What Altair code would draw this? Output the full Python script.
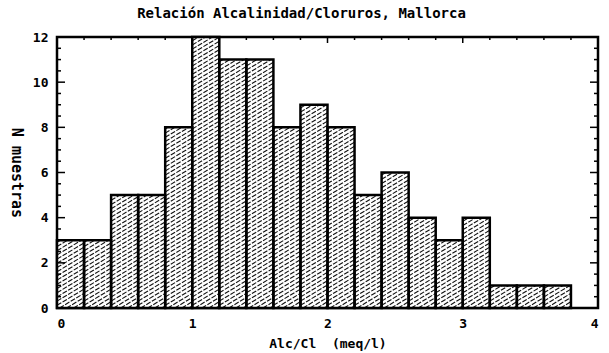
import altair as alt
import numpy as np
import pandas as pd

# Histogram of the alkalinity/chloride ratio (bin width 0.2 meq/l)
bin_start = [0.0, 0.2, 0.4, 0.6, 0.8, 1.0, 1.2, 1.4, 1.6, 1.8,
             2.0, 2.2, 2.4, 2.6, 2.8, 3.0, 3.2, 3.4, 3.6]
counts = [3, 3, 5, 5, 8, 12, 11, 11, 8, 9, 8, 5, 6, 4, 3, 4, 1, 1, 1]
bin_width = 0.2

x_ticks = [0, 1, 2, 3, 4]
y_ticks = [0, 2, 4, 6, 8, 10, 12]

W, H = 541, 271
FONT = "DejaVu Sans Mono"

bars = pd.DataFrame({
    "x0": bin_start,
    "x1": [b + bin_width for b in bin_start],
    "n": counts,
})

# diagonal hatch texture inside each bar (about 30 degrees on screen)
px_ratio = (W / 4.0) / (H / 12.0)
slope = 0.6 * px_ratio              # y data-units per x data-unit
step = 4.2 / (H / 12.0)             # vertical spacing of hatch lines
segs = []
for x0, x1, h in zip(bars.x0, bars.x1, bars.n):
    for c in np.arange(-slope * bin_width + step / 2, h, step):
        xa = x0 + max(0.0, -c) / slope
        ya = max(c, 0.0)
        yb = min(c + slope * bin_width, h)
        xb = x0 + (yb - c) / slope
        if xb > xa:
            segs.append({"xa": xa, "xb": xb, "ya": ya, "yb": yb})
hatch_df = pd.DataFrame(segs)

xs = alt.Scale(domain=[0, 4], nice=False, zero=False)
ys = alt.Scale(domain=[0, 12], nice=False, zero=True)

x_axis = alt.Axis(values=x_ticks, format="d", title="Alc/Cl\u00a0\u00a0(meq/l)",
                  domain=False, ticks=False, grid=False, labelPadding=9,
                  titlePadding=7, labelFont=FONT, labelFontSize=13,
                  labelFontWeight="bold", titleFont=FONT, titleFontSize=13,
                  titleFontWeight="bold", labelColor="black",
                  titleColor="black")
y_axis = alt.Axis(values=y_ticks, format="d", title="N muestras", domain=False,
                  ticks=False, grid=False, labelPadding=9, titlePadding=24,
                  titleAngle=90, labelFont=FONT, labelFontSize=13,
                  labelFontWeight="bold", titleFont=FONT, titleFontSize=15,
                  titleFontWeight="bold", labelColor="black",
                  titleColor="black")

base = alt.Chart(bars)

fill = base.mark_rect(fill="white", stroke=None).encode(
    x=alt.X("x0:Q", scale=xs, axis=x_axis),
    x2="x1:Q",
    y=alt.Y("n:Q", scale=ys, axis=y_axis),
    y2=alt.datum(0),
)

hatch = alt.Chart(hatch_df).mark_rule(
    color="#111111", strokeWidth=1.1, strokeDash=[5, 1.5]
).encode(
    x=alt.X("xa:Q", scale=xs),
    x2="xb:Q",
    y=alt.Y("ya:Q", scale=ys),
    y2="yb:Q",
)

outline = base.mark_rect(fill=None, stroke="black", strokeWidth=2.5).encode(
    x=alt.X("x0:Q", scale=xs),
    x2="x1:Q",
    y=alt.Y("n:Q", scale=ys),
    y2=alt.datum(0),
)

# inward ticks on the frame
y_minor = pd.DataFrame({"v": np.arange(0, 12.01, 0.5)})
y_minor["len"] = np.where(y_minor.v % 2 == 0, 8, 4)
x_minor = pd.DataFrame({"v": np.arange(0, 4.01, 0.2).round(2)})
x_minor["len"] = np.where((x_minor.v % 1).round(2) == 0, 6, 3)


def side_ticks(df, major, **enc):
    return alt.Chart(df).mark_rule(color="black", strokeWidth=1.5).encode(
        **enc
    ).transform_filter(f"datum.len {'>=' if major else '<'} 6")


left_major = side_ticks(y_minor, True, y=alt.Y("v:Q", scale=ys),
                        x=alt.value(0), x2=alt.value(8))
left_minor = side_ticks(y_minor, False, y=alt.Y("v:Q", scale=ys),
                        x=alt.value(0), x2=alt.value(4))
right_major = side_ticks(y_minor, True, y=alt.Y("v:Q", scale=ys),
                         x=alt.value(W - 8), x2=alt.value(W))
right_minor = side_ticks(y_minor, False, y=alt.Y("v:Q", scale=ys),
                         x=alt.value(W - 4), x2=alt.value(W))
top_major = side_ticks(x_minor, True, x=alt.X("v:Q", scale=xs),
                       y=alt.value(0), y2=alt.value(6))
top_minor = side_ticks(x_minor, False, x=alt.X("v:Q", scale=xs),
                       y=alt.value(0), y2=alt.value(3))

chart = alt.layer(
    fill, hatch, outline, left_major, left_minor,
    right_major, right_minor, top_major, top_minor,
).properties(
    width=W,
    height=H,
    autosize=alt.AutoSizeParams(type="none"),
    padding={"left": 57, "top": 37, "right": 11, "bottom": 45},
    background="white",
    title=alt.TitleParams(
        "Relación Alcalinidad/Cloruros, Mallorca",
        font=FONT, fontSize=14, fontWeight="bold", color="black",
        anchor="middle", dx=-26, offset=10,
    ),
).configure_view(
    stroke="black", strokeWidth=2.5,
)

chart.save("out.html", embed_options={"renderer": "svg", "actions": False})
